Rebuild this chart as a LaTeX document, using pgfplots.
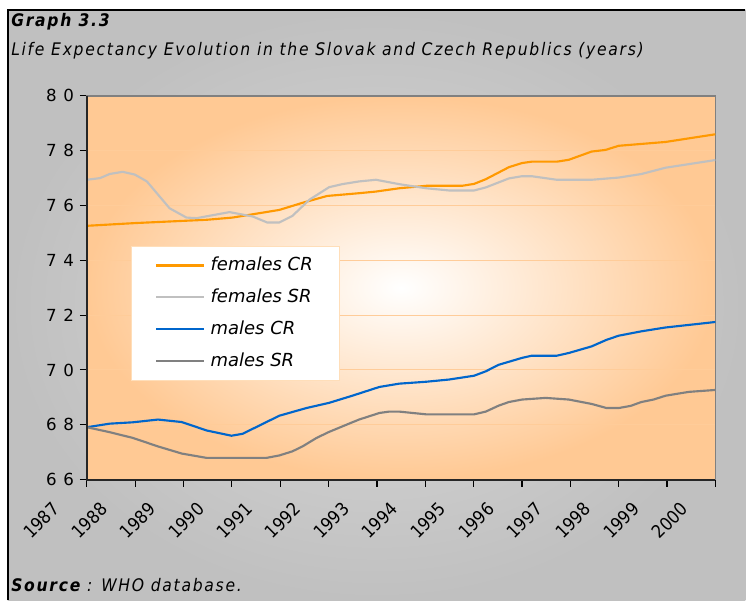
\documentclass[border=0pt]{standalone}
\usepackage{pgfplots}
\pgfplotsset{compat=1.18}
\usepackage{fontspec}
\setmainfont{DejaVu Sans}
\newfontfamily\condfont{DejaVu Sans Condensed}
\newfontfamily\titlefont{DejaVu Sans Condensed}[LetterSpace=10]
\newfontfamily\tickfont{DejaVu Sans}[LetterSpace=40]
\definecolor{orgline}{HTML}{FF9900}
\definecolor{lgline}{HTML}{C0C0C0}
\definecolor{blline}{HTML}{0066CC}
\definecolor{dgline}{HTML}{808080}
\definecolor{peach}{HTML}{FFC994}
\definecolor{gridc}{HTML}{FFCC99}
\definecolor{bgin}{HTML}{D9D9D9}
\definecolor{bgout}{HTML}{C0C0C0}
\begin{document}
\begin{tikzpicture}
\begin{scope}[x=0.75pt,y=-0.75pt]
\fill[white] (0,0) rectangle (746,601);
\shade[inner color=bgin, outer color=bgout] (8,10) rectangle (746,601);
\draw[black, line width=1pt] (8,601) -- (8,10) -- (746,10);
\node[anchor=base west, inner sep=0pt, font=\titlefont\bfseries\itshape\fontsize{13}{15}\selectfont] at (11,27) {Graph 3.3};
\node[anchor=base west, inner sep=0pt, font=\titlefont\itshape\fontsize{13}{15}\selectfont] at (11,56) {Life Expectancy Evolution in the Slovak and Czech Republics (years)};
\node[anchor=base west, inner sep=0pt, font=\titlefont\itshape\fontsize{13}{15}\selectfont] at (11,592) {\textbf{Source} : WHO database.};
\end{scope}
\begin{axis}[
  at={(65.25pt,-360pt)}, anchor=south west,
  scale only axis, width=471.75pt, height=288pt,
  xmin=0, xmax=13, ymin=66, ymax=80,
  xtick={0,...,13},
  xticklabels={1987,1988,1989,1990,1991,1992,1993,1994,1995,1996,1997,1998,1999,2000},
  ytick={66,68,...,80},
  tick align=outside, major tick length=5.25pt,
  tick pos=left,
  tick style={black, line width=0.8pt},
  axis line style={draw=dgline, line width=1.2pt},
  ymajorgrids, major grid style={draw=gridc, line width=0.75pt},
  axis background/.style={inner color=white, outer color=peach},
  /pgf/number format/assume math mode=true,
  yticklabel style={font=\tickfont\fontsize{12.5}{13}\selectfont, xshift=-1pt},
  xticklabel style={font=\condfont\fontsize{13.5}{15}\selectfont, xshift=-27pt, yshift=-6pt, rotate=45, anchor=north east},
  legend style={at={(rel axis cs:0.070,0.6076)}, anchor=north west,
    draw={rgb,255:red,255;green,222;blue,185}, fill=white, line width=0.5pt,
    font=\itshape\fontsize{13.5}{15}\selectfont,
    inner xsep=18pt, inner ysep=7.5pt, row sep=11pt, column sep=2pt,
    nodes={inner xsep=2pt, inner ysep=0pt, text height=10pt, text depth=3pt}},
  legend cell align=left,
  legend image code/.code={\draw[#1] (0pt,0pt) -- (36pt,0pt);},
  every axis plot/.append style={line width=1.6pt, line join=round},
  after end axis/.code={\draw[black!85, line width=1.4pt] (rel axis cs:0,1) -- (rel axis cs:0,0) -- (rel axis cs:1,0);},
]
\addplot[orgline] coordinates {(0,75.26) (1.0,75.36) (2.48,75.48) (3.01,75.56) (3.98,75.84) (4.46,76.10) (4.97,76.35) (5.63,76.45) (5.98,76.51) (6.46,76.63) (7.02,76.72) (7.76,76.72) (8.01,76.79) (8.25,76.96) (8.73,77.40) (9.0,77.55) (9.2,77.60) (9.72,77.60) (9.97,77.67) (10.44,77.97) (10.73,78.03) (11.0,78.18) (11.97,78.32) (13,78.60)};
\addlegendentry{females CR}
\addplot[lgline] coordinates {(0,76.94) (0.27,77.0) (0.47,77.15) (0.74,77.23) (0.99,77.13) (1.24,76.88) (1.71,75.90) (2.06,75.56) (2.27,75.54) (2.95,75.76) (3.43,75.60) (3.73,75.38) (3.98,75.38) (4.25,75.62) (4.60,76.21) (5.01,76.67) (5.28,76.78) (5.63,76.88) (5.98,76.94) (6.46,76.78) (7.02,76.63) (7.49,76.55) (8.01,76.55) (8.25,76.66) (8.73,76.99) (9.0,77.07) (9.2,77.07) (9.72,76.94) (10.44,76.94) (11.0,77.02) (11.47,77.15) (11.97,77.38) (13,77.66)};
\addlegendentry{females SR}
\addplot[blline] coordinates {(0,67.91) (0.47,68.04) (0.95,68.09) (1.47,68.19) (1.96,68.10) (2.48,67.79) (2.99,67.60) (3.22,67.67) (3.98,68.33) (4.54,68.61) (5.01,68.80) (5.49,69.06) (6.05,69.38) (6.46,69.50) (7.02,69.57) (7.49,69.65) (8.01,69.79) (8.25,69.95) (8.52,70.19) (9.0,70.44) (9.2,70.52) (9.72,70.52) (9.97,70.62) (10.44,70.86) (10.75,71.10) (11.0,71.25) (11.47,71.41) (11.97,71.55) (13,71.75)};
\addlegendentry{males CR}
\addplot[dgline] coordinates {(0,67.91) (0.47,67.73) (0.95,67.52) (1.47,67.21) (1.96,66.95) (2.48,66.79) (3.01,66.79) (3.71,66.79) (3.98,66.88) (4.25,67.03) (4.46,67.21) (4.75,67.52) (5.01,67.74) (5.49,68.09) (5.63,68.19) (6.05,68.43) (6.25,68.48) (6.46,68.48) (7.02,68.38) (8.01,68.38) (8.25,68.48) (8.52,68.70) (8.73,68.83) (9.0,68.92) (9.49,68.98) (9.97,68.92) (10.44,68.76) (10.75,68.61) (11.0,68.61) (11.25,68.69) (11.47,68.83) (11.72,68.92) (11.97,69.06) (12.45,69.20) (13,69.27)};
\addlegendentry{males SR}
\end{axis}
\end{tikzpicture}
\end{document}
